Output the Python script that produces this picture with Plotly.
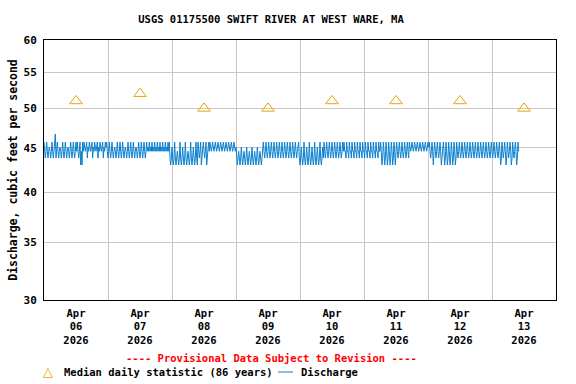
import pandas as pd
import plotly.graph_objects as go

# ---- data ----
median_dates = ["2026-04-06 12:00", "2026-04-07 12:00", "2026-04-08 12:00", "2026-04-09 12:00",
                "2026-04-10 12:00", "2026-04-11 12:00", "2026-04-12 12:00", "2026-04-13 12:00"]
median_values = [51, 52, 50, 50, 51, 51, 51, 50]

# discharge levels (ft3/s) keyed by code letters
level_values = {"a": 45.7, "b": 45.1, "c": 44.6, "d": 43.8, "e": 43.0, "f": 46.7}

# 15-minute discharge readings starting 2026-04-06 00:00, encoded with the codes above
discharge_codes = [
    "acdcacdcbc", "dcacdcafdc", "acdcbcdcac", "dcacdcbcdc", "acdcacdcac", "acdcaeceac",
    "abcbadbcab", "cbadbcabcb", "adbcabcbad", "bcab",
    "acdcacdcac", "dcbcdcacdc", "acdcacdcbc", "dcacdcacdc", "acdcbcdcac", "dcacdcacdc",
    "acbcacbcac", "bcacbcacbc", "acbcacbcac", "bcac",
    "adedbdedad", "edcdedaded", "bdedadedcd", "edadedbded", "ade",
    "acdcaedcac", "dcaedcac",
    "abcbabcbab", "cbabcbabcb", "abcbabcbab", "cbabcbabc",
    "bdedcdedbd", "edcdedbded", "cdedbdedcd", "edbdedcded", "b",
    "acdcacdcac", "dcacdcacdc", "acdcacdcac", "dcacdcacdc", "acdcacdcac", "dca",
    "adedbdedad", "edbdedaded", "bdedadedbd", "edadedbd",
    "acdcacdcac", "dcacdcacdc", "acdcacdcac",
    "accdaccdac", "cdaccdaccd", "accdaccdac", "cdaccdaccd", "accdaccdac", "cdacc",
    "acedacedac", "edacedaced", "acec",
    "acdcacdcac", "dcacdcacd",
    "abcbabcbab", "cbabcbabcb", "abcbabcbab",
    "acdcacecac", "dcacdcaced", "c",
    "acedacedac", "edacedaced", "acdc",
    "acdcacdcac", "dcacdcacdc", "acdcacdcac", "dcacdcacdc", "acdcacdcac", "dcacdcacdc",
    "acedacdcac", "edacdcaced", "acdcacedac",
]

day_ticks = ["2026-04-06 12:00", "2026-04-07 12:00", "2026-04-08 12:00", "2026-04-09 12:00",
             "2026-04-10 12:00", "2026-04-11 12:00", "2026-04-12 12:00", "2026-04-13 12:00"]
day_labels = ["Apr<br>06<br>2026", "Apr<br>07<br>2026", "Apr<br>08<br>2026", "Apr<br>09<br>2026",
              "Apr<br>10<br>2026", "Apr<br>11<br>2026", "Apr<br>12<br>2026", "Apr<br>13<br>2026"]
y_ticks = [30, 35, 40, 45, 50, 55, 60]

codes = "".join(discharge_codes)
discharge = [level_values[c] for c in codes]
times = pd.date_range("2026-04-06 00:00", periods=len(discharge), freq="15min")

FONT = "DejaVu Sans Mono"
BLUE = "#0a80d0"
ORANGE = "#f0a000"

fig = go.Figure()
fig.add_trace(go.Scatter(x=times, y=discharge, mode="lines",
                         line=dict(color=BLUE, width=1), name="Discharge", showlegend=False))
fig.add_trace(go.Scatter(x=pd.to_datetime(median_dates), y=median_values, mode="markers",
                         marker=dict(symbol="triangle-up-open", color=ORANGE, size=11,
                                     line=dict(width=1, color=ORANGE)),
                         name="Median daily statistic (86 years)", showlegend=False))

L, R, T, B = 44, 20, 40, 84
W, H = 576, 384
pw, ph = W - L - R, H - T - B

def px_x(x):
    return (x - L) / pw

def px_y(y):
    return (H - B - y) / ph

fig.update_layout(
    width=W, height=H,
    margin=dict(l=L, r=R, t=T, b=B),
    paper_bgcolor="white", plot_bgcolor="white",
    font=dict(family=FONT, size=10.5, color="black", weight="bold"),
    title=dict(text="USGS 01175500 SWIFT RIVER AT WEST WARE, MA",
               x=px_x(271), xref="paper", xanchor="center",
               y=1 - 19 / H, yanchor="middle",
               font=dict(family=FONT, size=10.5, color="black", weight="bold")),
    showlegend=False,
    xaxis=dict(type="date", range=["2026-04-06 00:00", "2026-04-14 00:00"],
               tickvals=pd.to_datetime(day_ticks), ticktext=day_labels,
               showgrid=False, zeroline=False, ticks="", ticklabelstandoff=3,
               showline=True, linecolor="black", linewidth=1, mirror=True,
               tickfont=dict(family=FONT, size=10.5, weight="bold"),
               minor=dict(dtick=86400000, tick0="2026-04-06", showgrid=True,
                          gridcolor="#c8c8c8", gridwidth=1, ticks=""),
               automargin=False),
    yaxis=dict(type="log", range=[1.4771212547, 1.7781512504],
               tickvals=y_ticks, ticktext=[str(v) for v in y_ticks],
               showgrid=True, gridcolor="#c8c8c8", gridwidth=1, zeroline=False, ticks="",
               ticklabelstandoff=4,
               showline=True, linecolor="black", linewidth=1, mirror=True,
               tickfont=dict(family=FONT, size=11, weight="bold"),
               title=dict(text="Discharge, cubic feet per second", standoff=3,
                          font=dict(family=FONT, size=11.5, weight="bold")),
               automargin=False),
)

fig.add_annotation(text="---- Provisional Data Subject to Revision ----",
                   x=px_x(271), y=px_y(358), xref="paper", yref="paper",
                   xanchor="center", yanchor="middle", showarrow=False,
                   font=dict(family=FONT, size=10.5, color="#ff0000", weight="bold"))
fig.add_annotation(text="△", x=px_x(48), y=px_y(371), xref="paper", yref="paper",
                   xanchor="center", yanchor="middle", showarrow=False,
                   font=dict(family="DejaVu Sans", size=13, color=ORANGE))
fig.add_annotation(text="Median daily statistic (86 years)", x=px_x(62), y=px_y(372),
                   xref="paper", yref="paper", xanchor="left", yanchor="middle",
                   showarrow=False, font=dict(family=FONT, size=10.5, weight="bold"))
fig.add_shape(type="line", xref="paper", yref="paper",
              x0=px_x(278), x1=px_x(293), y0=px_y(372), y1=px_y(372),
              line=dict(color=BLUE, width=1))
fig.add_annotation(text="Discharge", x=px_x(299), y=px_y(372),
                   xref="paper", yref="paper", xanchor="left", yanchor="middle",
                   showarrow=False, font=dict(family=FONT, size=10.5, weight="bold"))

fig.write_html("out.html", config={"displayModeBar": False},
               post_script="document.body.style.margin='0';document.body.style.overflow='hidden';")
